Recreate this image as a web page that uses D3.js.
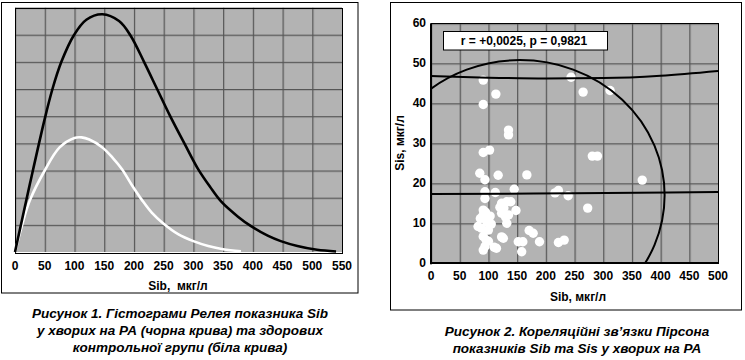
<!DOCTYPE html>
<html>
<head>
<meta charset="utf-8">
<script src="https://cdn.jsdelivr.net/npm/d3@7"></script>
<style>
  body { margin: 0; background: #fff; }
  svg { display: block; font-family: "Liberation Sans", Arial, sans-serif; }
  .tick-label { font-size: 12px; font-weight: bold; fill: #000; }
  .caption { font-family: "Liberation Sans Narrow", "Arial Narrow", sans-serif; font-size: 13.5px; font-weight: bold; font-style: italic; fill: #000; }
</style>
</head>
<body>
<script>
// Figure 1: Rayleigh histograms
const sibBlack = [
  [0, 0], [25, 2.5], [50, 4.9], [63, 6.0], [78, 7.0], [99, 7.98], [120, 8.55],
  [147, 8.75], [175, 8.5], [194, 7.98], [217, 7.0], [239, 6.0], [261, 5.0],
  [286, 3.95], [308, 3.05], [328, 2.4], [347, 1.85], [375, 1.3], [397, 0.95],
  [425, 0.6], [447, 0.4], [475, 0.22], [508, 0.08], [540, 0.02]
];
const sibWhite = [
  [0, 0], [12, 1.0], [25, 1.9], [50, 3.0], [75, 3.85], [100, 4.2], [112, 4.22],
  [125, 4.14], [147, 3.85], [165, 3.45], [180, 3.05], [197, 2.45], [214, 1.9],
  [230, 1.45], [248, 1.08], [275, 0.65], [300, 0.4], [325, 0.22], [350, 0.1],
  [380, 0.03]
];
const fig1Ticks = d3.range(0, 551, 50);
const fig1Rows = d3.range(0, 10);

// Figure 2: Pearson correlation Sib vs Sis
const scatterPoints = [
  [91, 45.8], [113, 42.3], [91, 39.7], [135, 33.3], [135, 32.1], [91, 27.7], [102, 28.3],
  [244, 46.5], [265, 42.8], [312, 43.2], [281, 26.8], [290, 26.8], [85, 22.5], [94, 20.9],
  [117, 22.0], [167, 22.1], [368, 20.8], [94, 17.9], [94, 16.2], [112, 17.7], [145, 18.5],
  [216, 17.6], [222, 18.2], [239, 16.9], [273, 13.8], [91, 13.3], [91, 12.1], [95, 12.8],
  [103, 11.8], [86, 11.2], [82, 9.2], [88, 8.8], [97, 10.4], [100, 8.3], [105, 9.8],
  [91, 6.7], [96, 5.8], [94, 4.2], [91, 3.3], [114, 3.75], [110, 4.0], [126, 6.25],
  [123, 6.6], [123, 15.0], [132, 15.4], [139, 15.4], [123, 12.5], [135, 12.1], [148, 13.2],
  [132, 10.0], [130, 11.5], [152, 5.4], [158, 2.9], [160, 5.4], [171, 8.2], [178, 7.5],
  [189, 5.4], [222, 5.2], [232, 5.8], [100, 5.5], [120, 14.0], [127, 13.8]
];
const upperBand = [[0, 46.8], [100, 46.4], [200, 46.2], [300, 46.3], [400, 46.9], [500, 48.1]];
const lowerBand = [[0, 17.3], [250, 17.5], [500, 17.8]];
const ellipseParams = { cx: 155, cy: 17, rx: 252, ry: 33.8 }; // in data units
const fig2XTicks = d3.range(0, 501, 50);
const fig2YTicks = d3.range(0, 61, 10);
const statsText = "r = +0,0025, p = 0,9821";

const captionLeft = [
  "Рисунок 1. Гістограми Релея показника Sib",
  "у хворих на РА (чорна крива) та здорових",
  "контрольної групи (біла крива)"
];
const captionRight = [
  "Рисунок 2. Кореляційні зв’язки Пірсона",
  "показників Sib та Sis у хворих на РА"
];

const W = 745, H = 360;
const svg = d3.select("body").append("svg")
  .attr("width", W).attr("height", H).attr("viewBox", [0, 0, W, H]);
const defs = svg.append("defs");

const plotFill = "#b3b3b3";
const gridColor = "#555";

// gray cell with its left and top grid line, repeated over the plot
function gridPattern(id, xScale, yScale, xs, ys) {
  const w = Math.abs(xScale(xs[1]) - xScale(xs[0]));
  const h = Math.abs(yScale(ys[1]) - yScale(ys[0]));
  const pat = defs.append("pattern").attr("id", id)
    .attr("patternUnits", "userSpaceOnUse")
    .attr("x", xScale(xs[0])).attr("y", yScale(ys[ys.length - 1]))
    .attr("width", w).attr("height", h);
  pat.append("rect").attr("width", w).attr("height", h).attr("fill", plotFill);
  pat.append("rect").attr("width", 1.2).attr("height", h).attr("fill", gridColor);
  pat.append("rect").attr("width", w).attr("height", 1.2).attr("fill", gridColor);
}

// ---------- Figure 1 ----------
svg.append("rect").attr("x", 1.5).attr("y", 2.5).attr("width", 356.5).attr("height", 290.5)
  .attr("fill", "none").attr("stroke", "#000").attr("stroke-width", 1);

const x1 = d3.scaleLinear().domain([0, 550]).range([15, 342]);
const y1 = d3.scaleLinear().domain([0, 9]).range([252, 7.5]);
gridPattern("grid1", x1, y1, fig1Ticks, fig1Rows);

const g1 = svg.append("g");
g1.append("rect").attr("x", x1(0)).attr("y", y1(9))
  .attr("width", x1(550) - x1(0)).attr("height", y1(0) - y1(9)).attr("fill", "url(#grid1)");
g1.append("rect").attr("x", Math.round(x1(0)) + 0.5).attr("y", Math.round(y1(9)) + 0.5)
  .attr("width", Math.round(x1(550) - x1(0))).attr("height", Math.round(y1(0) - y1(9)))
  .attr("fill", "none").attr("stroke", "#000").attr("stroke-width", 1);

const line1 = d3.line().x(d => x1(d[0])).y(d => y1(d[1])).curve(d3.curveCatmullRom.alpha(0.5));
g1.append("path").datum(sibWhite).attr("d", line1)
  .attr("fill", "none").attr("stroke", "#fff").attr("stroke-width", 2.6);
g1.append("path").datum(sibBlack).attr("d", line1)
  .attr("fill", "none").attr("stroke", "#000").attr("stroke-width", 2.6);

g1.append("g").selectAll("text").data(fig1Ticks).join("text")
  .attr("class", "tick-label")
  .attr("x", d => x1(d)).attr("y", 270)
  .attr("text-anchor", "middle")
  .text(d => d);
g1.append("text").attr("class", "tick-label")
  .attr("x", 178).attr("y", 290).attr("text-anchor", "middle")
  .style("white-space", "pre")
  .text("Sib,  мкг/л");

// ---------- Figure 2 ----------
svg.append("rect").attr("x", 390.5).attr("y", 2.5).attr("width", 351).attr("height", 307.5)
  .attr("fill", "none").attr("stroke", "#000").attr("stroke-width", 1);

const x2 = d3.scaleLinear().domain([0, 500]).range([431, 718]);
const y2 = d3.scaleLinear().domain([0, 60]).range([263.3, 23.3]);
gridPattern("grid2", x2, y2, fig2XTicks, fig2YTicks);

const g2 = svg.append("g");
g2.append("rect").attr("x", x2(0)).attr("y", y2(60))
  .attr("width", x2(500) - x2(0)).attr("height", y2(0) - y2(60)).attr("fill", "url(#grid2)");

// clip for the ellipse and bands
defs.append("clipPath").attr("id", "clip2")
  .append("rect").attr("x", x2(0)).attr("y", y2(60))
  .attr("width", x2(500) - x2(0)).attr("height", y2(0) - y2(60));

const inner = g2.append("g").attr("clip-path", "url(#clip2)");

// dots
inner.append("g").selectAll("circle").data(scatterPoints).join("circle")
  .attr("cx", d => x2(d[0])).attr("cy", d => y2(d[1]))
  .attr("r", 4.7).attr("fill", "#fff");

const line2 = d3.line().x(d => x2(d[0])).y(d => y2(d[1])).curve(d3.curveMonotoneX);
inner.append("path").datum(upperBand).attr("d", line2)
  .attr("fill", "none").attr("stroke", "#000").attr("stroke-width", 2);
inner.append("path").datum(lowerBand).attr("d", line2)
  .attr("fill", "none").attr("stroke", "#000").attr("stroke-width", 2);
inner.append("ellipse")
  .attr("cx", x2(ellipseParams.cx)).attr("cy", y2(ellipseParams.cy))
  .attr("rx", x2(ellipseParams.rx) - x2(0)).attr("ry", y2(0) - y2(ellipseParams.ry))
  .attr("fill", "none").attr("stroke", "#000").attr("stroke-width", 2);

// frame + axes
g2.append("rect").attr("x", Math.round(x2(0)) + 0.5).attr("y", Math.round(y2(60)) + 0.5)
  .attr("width", Math.round(x2(500) - x2(0))).attr("height", Math.round(y2(0) - y2(60)))
  .attr("fill", "none").attr("stroke", "#000").attr("stroke-width", 1);
g2.append("rect").attr("x", Math.round(x2(0)) - 1).attr("y", y2(60))
  .attr("width", 2).attr("height", y2(0) - y2(60) + 1).attr("fill", "#000");
g2.append("rect").attr("x", Math.round(x2(0)) - 1).attr("y", Math.round(y2(0)) - 1)
  .attr("width", x2(500) - x2(0) + 2).attr("height", 2).attr("fill", "#000");

// stats box
g2.append("rect").attr("x", 443.5).attr("y", 31.5).attr("width", 164).attr("height", 18.5)
  .attr("fill", "#fff").attr("stroke", "#000").attr("stroke-width", 1);
g2.append("text").attr("class", "tick-label")
  .attr("x", 524).attr("y", 45).attr("text-anchor", "middle").text(statsText);

g2.append("g").selectAll("text").data(fig2XTicks).join("text")
  .attr("class", "tick-label")
  .attr("x", d => x2(d)).attr("y", 280)
  .attr("text-anchor", "middle").text(d => d);
g2.append("g").selectAll("text").data(fig2YTicks).join("text")
  .attr("class", "tick-label")
  .attr("x", 426).attr("y", d => y2(d) + 4)
  .attr("text-anchor", "end").text(d => d);

g2.append("text").attr("class", "tick-label")
  .attr("x", 578).attr("y", 301).attr("text-anchor", "middle").text("Sib, мкг/л");
g2.append("text").attr("class", "tick-label")
  .attr("transform", "translate(404,143) rotate(-90)")
  .attr("text-anchor", "middle").text("Sis, мкг/л");

// ---------- captions ----------
svg.append("g").selectAll("text").data(captionLeft).join("text")
  .attr("class", "caption")
  .attr("x", 180).attr("y", (d, i) => 318 + i * 17)
  .attr("text-anchor", "middle").text(d => d);
svg.append("g").selectAll("text").data(captionRight).join("text")
  .attr("class", "caption")
  .attr("x", 577).attr("y", (d, i) => 336 + i * 17)
  .attr("text-anchor", "middle").text(d => d);
</script>
</body>
</html>
